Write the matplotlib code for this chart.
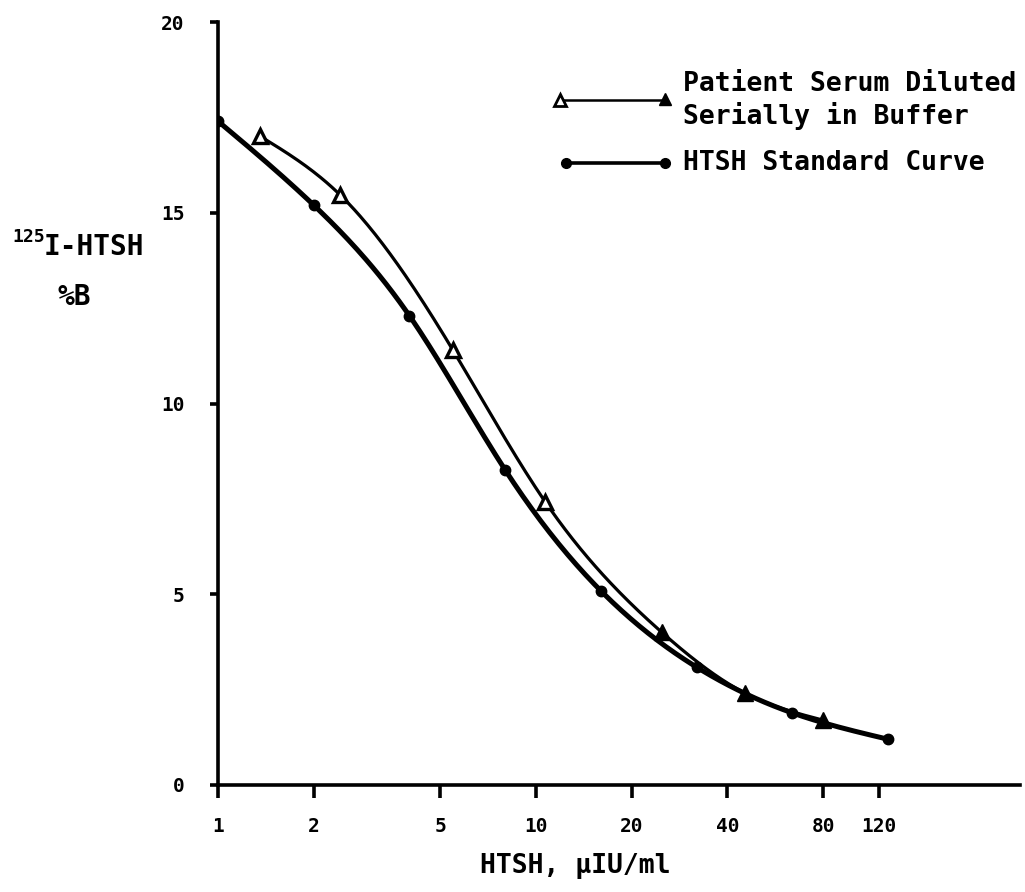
import numpy as np
import matplotlib.pyplot as plt
from matplotlib.lines import Line2D

# HTSH standard curve (filled circles)
std_dose = [1, 2, 4, 8, 16, 32, 64, 128]
std_pct_b = [17.4, 15.2, 12.3, 8.26, 5.09, 3.09, 1.89, 1.2]

# patient serum diluted serially in buffer (triangles)
pat_dose = [1.36, 2.42, 5.48, 10.7, 24.9, 45.4, 80]
pat_pct_b = [17.0, 15.47, 11.4, 7.42, 4.0, 2.41, 1.7]

x_ticks = [1, 2, 5, 10, 20, 40, 80, 120]
y_ticks = [0, 5, 10, 15, 20]

FONT = "DejaVu Sans Mono"


def spline_curve(x, y, n=300):
    # natural cubic spline through the points, in log10(x)
    t = np.log10(np.asarray(x, float))
    y = np.asarray(y, float)
    N = len(t)
    h = np.diff(t)
    A = np.zeros((N, N))
    rhs = np.zeros(N)
    A[0, 0] = A[-1, -1] = 1
    for i in range(1, N - 1):
        A[i, i - 1] = h[i - 1]
        A[i, i] = 2 * (h[i - 1] + h[i])
        A[i, i + 1] = h[i]
        rhs[i] = 3 * ((y[i + 1] - y[i]) / h[i] - (y[i] - y[i - 1]) / h[i - 1])
    c = np.linalg.solve(A, rhs)
    b = (y[1:] - y[:-1]) / h - h * (2 * c[:-1] + c[1:]) / 3
    d = (c[1:] - c[:-1]) / (3 * h)
    tt = np.linspace(t[0], t[-1], n)
    k = np.clip(np.searchsorted(t, tt, side="right") - 1, 0, N - 2)
    s = tt - t[k]
    yy = y[k] + b[k] * s + c[k] * s**2 + d[k] * s**3
    return 10 ** tt, yy


fig = plt.figure(figsize=(10.25, 8.92), dpi=100)
ax = fig.add_axes([218 / 1025, 1 - 785 / 892, (1020 - 218) / 1025, (785 - 22) / 892])

ax.set_xscale("log")
ax.set_xlim(1, 333)
ax.set_ylim(0, 20)

sx, sy = spline_curve(std_dose, std_pct_b)
ax.plot(sx, sy, color="black", lw=3.6, solid_capstyle="round", zorder=2)
ax.plot(std_dose, std_pct_b, "o", color="black", ms=7.5, zorder=3)

px, py = spline_curve(pat_dose, pat_pct_b)
ax.plot(px, py, color="black", lw=2.3, zorder=2)
ax.plot(pat_dose[:4], pat_pct_b[:4], "^", mfc="white", mec="black", mew=2.4, ms=10, zorder=4)
ax.plot(pat_dose[4:], pat_pct_b[4:], "^", color="black", ms=12, zorder=4)

for side in ("top", "right"):
    ax.spines[side].set_visible(False)
for side in ("left", "bottom"):
    ax.spines[side].set_linewidth(2.6)

ax.set_xticks(x_ticks)
ax.set_xticklabels([str(v) for v in x_ticks])
ax.xaxis.set_minor_locator(plt.NullLocator())
ax.set_yticks(y_ticks)
ax.tick_params(axis="x", direction="out", length=9, width=2.6, pad=14)
ax.tick_params(axis="y", direction="out", length=6, width=2.6, pad=18)
for lab in ax.get_xticklabels() + ax.get_yticklabels():
    lab.set_fontfamily(FONT)
    lab.set_fontweight("bold")
    lab.set_fontsize(14)

# axis titles
fig.text(575 / 1025, 1 - 866 / 892, "HTSH, \u00b5IU/ml", fontfamily=FONT,
         fontsize=19, fontweight="bold", ha="center", va="center")
fig.text(12 / 1025, 1 - 237 / 892, "125", fontfamily=FONT, fontsize=13,
         fontweight="bold", ha="left", va="center")
fig.text(44 / 1025, 1 - 247 / 892, "I-HTSH", fontfamily=FONT, fontsize=20,
         fontweight="bold", ha="left", va="center")
fig.text(58 / 1025, 1 - 297 / 892, "%B", fontfamily=FONT, fontsize=20,
         fontweight="bold", ha="left", va="center")

# key in the upper right
fig.add_artist(Line2D([560 / 1025, 665 / 1025], [1 - 100 / 892] * 2, color="black", lw=1.8))
fig.add_artist(Line2D([560 / 1025], [1 - 100 / 892], marker="^", mfc="white", mec="black",
                      mew=2, ms=8))
fig.add_artist(Line2D([665 / 1025], [1 - 99 / 892], marker="^", color="black", ms=9))
fig.add_artist(Line2D([566 / 1025, 665 / 1025], [1 - 163 / 892] * 2, color="black", lw=2.6))
fig.add_artist(Line2D([566 / 1025, 665 / 1025], [1 - 163 / 892] * 2, marker="o", ls="none",
                      color="black", ms=7))
for text, yp in [("Patient Serum Diluted", 84), ("Serially in Buffer", 116),
                 ("HTSH Standard Curve", 163)]:
    fig.text(683 / 1025, 1 - yp / 892, text, fontfamily=FONT, fontsize=19,
             fontweight="bold", ha="left", va="center")

fig.savefig("out.png", dpi=100)
